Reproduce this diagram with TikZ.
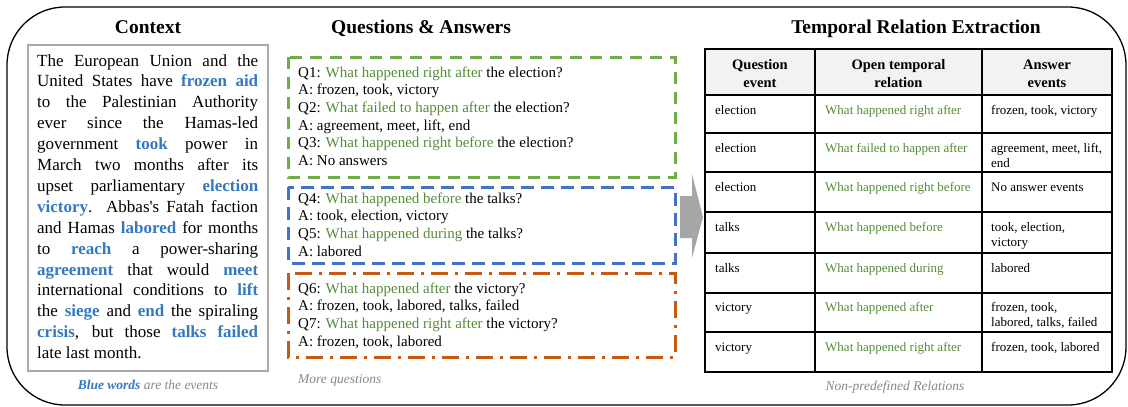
\documentclass[tikz,border=0pt]{standalone}
\usepackage{fontspec}
\setmainfont{Liberation Serif}
\definecolor{evblue}{RGB}{52,120,192}
\definecolor{relgreen}{RGB}{84,140,55}
\definecolor{boxgreen}{RGB}{112,173,71}
\definecolor{boxblue}{RGB}{68,114,196}
\definecolor{boxorange}{RGB}{197,90,17}
\definecolor{notegray}{RGB}{135,135,135}
\definecolor{arrowgray}{RGB}{166,166,166}
\definecolor{headfill}{RGB}{242,242,242}
\definecolor{ctxborder}{RGB}{170,170,170}
\newcommand{\ev}[1]{\textcolor{evblue}{\textbf{#1}}}
\newcommand{\rel}[1]{\textcolor{relgreen}{#1}}
\newcommand{\jline}[1]{\makebox[221pt][s]{#1}}
\begin{document}
\begin{tikzpicture}[x=1pt,y=-1pt,
  titletext/.style={font=\fontsize{19.5}{23}\selectfont\bfseries, anchor=base, inner sep=0},
  ctx/.style={font=\fontsize{17}{20}\selectfont, anchor=base west, inner sep=0},
  qa/.style={font=\fontsize{15}{18}\selectfont, anchor=base west, inner sep=0},
  cell/.style={font=\fontsize{13}{15}\selectfont, anchor=base west, inner sep=0},
  head/.style={font=\fontsize{14.5}{17}\selectfont\bfseries, anchor=base, inner sep=0},
  note/.style={font=\fontsize{13.5}{16}\selectfont\itshape, text=notegray, anchor=base, inner sep=0},
  tablerule/.style={line width=1.1pt, black},
  qgreen/.style={draw=boxgreen, line width=3pt, dash pattern=on 12pt off 8pt},
  qblue/.style={draw=boxblue, line width=3pt, dash pattern=on 13pt off 7pt},
  qorange/.style={draw=boxorange, line width=3pt, dash pattern=on 17pt off 7pt on 3pt off 7pt}
]
\useasboundingbox (0,0) rectangle (1128,407);
% outer frame
\draw[line width=1.3pt, rounded corners=58pt] (7,7) rectangle (1126,405);

% titles
\node[titletext] (tctx) at (148,33) {Context};
\node[titletext] (tqa) at (421,33) {Questions \& Answers};
\node[titletext] (tte) at (916,33) {Temporal Relation Extraction};

% context box
\draw[ctxborder, line width=2pt] (28,45) rectangle (268,371);
\node[ctx] (c1) at (37,66.0) {\jline{The European Union and the}};
\node[ctx] (c2) at (37,86.9) {\jline{United States have \ev{frozen aid}}};
\node[ctx] (c3) at (37,107.8) {\jline{to the Palestinian Authority}};
\node[ctx] (c4) at (37,128.7) {\jline{ever since the Hamas-led}};
\node[ctx] (c5) at (37,149.6) {\jline{government \ev{took} power in}};
\node[ctx] (c6) at (37,170.5) {\jline{March two months after its}};
\node[ctx] (c7) at (37,191.4) {\jline{upset parliamentary \ev{election}}};
\node[ctx] (c8) at (37,212.3) {\jline{\ev{victory}. Abbas\textquotesingle s Fatah faction}};
\node[ctx] (c9) at (37,233.2) {\jline{and Hamas \ev{labored} for months}};
\node[ctx] (c10) at (37,254.1) {\jline{to \ev{reach} a power-sharing}};
\node[ctx] (c11) at (37,275.0) {\jline{\ev{agreement} that would \ev{meet}}};
\node[ctx] (c12) at (37,295.9) {\jline{international conditions to \ev{lift}}};
\node[ctx] (c13) at (37,316.8) {\jline{the \ev{siege} and \ev{end} the spiraling}};
\node[ctx] (c14) at (37,337.7) {\jline{\ev{crisis}, but those \ev{talks failed}}};
\node[ctx] (c15) at (37,358.6) {late last month.};
\node[note] (ctxnote) at (148,389) {\textcolor{evblue}{\textbf{Blue words}} are the events};

% question boxes
\draw[qgreen] (288,57) rectangle (675,177);
\draw[qblue] (288,187) rectangle (675,263);
\draw[qorange] (288,273) rectangle (675,357);

\node[qa] (q1) at (298,77) {Q1: \rel{What happened right after} the election?};
\node[qa] (a1) at (298,94.7) {A: frozen, took, victory};
\node[qa] (q2) at (298,112.4) {Q2: \rel{What failed to happen after} the election?};
\node[qa] (a2) at (298,130.1) {A: agreement, meet, lift, end};
\node[qa] (q3) at (298,147.8) {Q3: \rel{What happened right before} the election?};
\node[qa] (a3) at (298,165.5) {A: No answers};

\node[qa] (q4) at (298,203) {Q4: \rel{What happened before} the talks?};
\node[qa] (a4) at (298,220.7) {A: took, election, victory};
\node[qa] (q5) at (298,238.4) {Q5: \rel{What happened during} the talks?};
\node[qa] (a5) at (298,256.1) {A: labored};

\node[qa] (q6) at (298,293) {Q6: \rel{What happened after} the victory?};
\node[qa] (a6) at (298,310.7) {A: frozen, took, labored, talks, failed};
\node[qa] (q7) at (298,328.4) {Q7: \rel{What happened right after} the victory?};
\node[qa] (a7) at (298,346.1) {A: frozen, took, labored};

\node[note, anchor=base west] (more) at (298,383) {More questions};

% block arrow
\fill[arrowgray] (680,196) -- (692,196) -- (692,174) -- (703,217) -- (692,258) -- (692,238) -- (680,238) -- cycle;

% table
\fill[headfill] (705,49) rectangle (1112,95);
\draw[tablerule] (705,49) rectangle (1112,372);
\foreach \yy in {95,133,172,212,253,293,332} \draw[tablerule] (705,\yy) -- (1112,\yy);
\draw[tablerule] (815,49) -- (815,372);
\draw[tablerule] (982,49) -- (982,372);

\node[head] (h1a) at (760,69) {Question};
\node[head] (h1b) at (760,87) {event};
\node[head] (h2a) at (898.5,69) {Open temporal};
\node[head] (h2b) at (898.5,87) {relation};
\node[head] (h3a) at (1047,69) {Answer};
\node[head] (h3b) at (1047,87) {events};

\node[cell] (r1a) at (715,114) {election};
\node[cell] (r1b) at (825,114) {\rel{What happened right after}};
\node[cell] (r1c) at (991,114) {frozen, took, victory};

\node[cell] (r2a) at (715,152) {election};
\node[cell] (r2b) at (825,152) {\rel{What failed to happen after}};
\node[cell] (r2c) at (991,152) {agreement, meet, lift,};
\node[cell] (r2d) at (991,167) {end};

\node[cell] (r3a) at (715,191) {election};
\node[cell] (r3b) at (825,191) {\rel{What happened right before}};
\node[cell] (r3c) at (991,191) {No answer events};

\node[cell] (r4a) at (715,231) {talks};
\node[cell] (r4b) at (825,231) {\rel{What happened before}};
\node[cell] (r4c) at (991,231) {took, election,};
\node[cell] (r4d) at (991,246) {victory};

\node[cell] (r5a) at (715,272) {talks};
\node[cell] (r5b) at (825,272) {\rel{What happened during}};
\node[cell] (r5c) at (991,272) {labored};

\node[cell] (r6a) at (715,311) {victory};
\node[cell] (r6b) at (825,311) {\rel{What happened after}};
\node[cell] (r6c) at (991,311) {frozen, took,};
\node[cell] (r6d) at (991,326) {labored, talks, failed};

\node[cell] (r7a) at (715,351) {victory};
\node[cell] (r7b) at (825,351) {\rel{What happened right after}};
\node[cell] (r7c) at (991,351) {frozen, took, labored};

\node[note] (tnote) at (895,390) {Non-predefined Relations};
\end{tikzpicture}
\end{document}
